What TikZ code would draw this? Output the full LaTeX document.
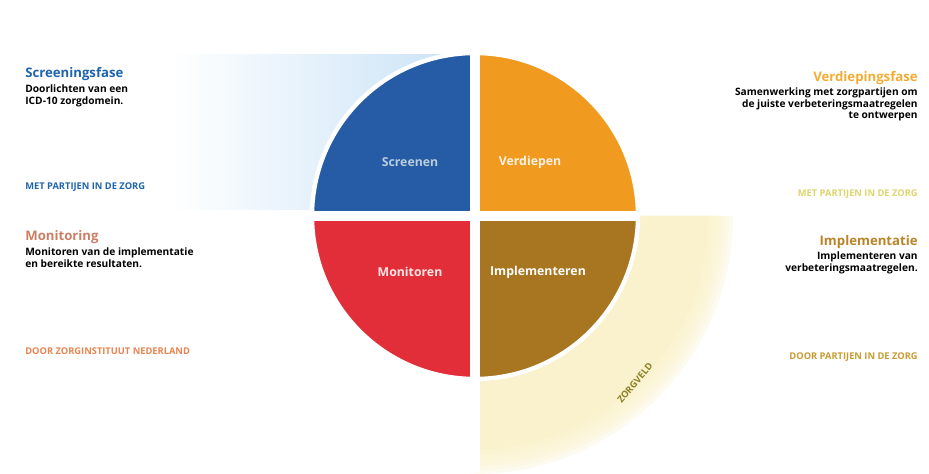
\documentclass[tikz,border=0pt]{standalone}
\usepackage{fontspec}
\setmainfont{Open Sans}
\usepackage{xcolor}
\usetikzlibrary{positioning}
\definecolor{scrblue}{RGB}{38,92,165}
\definecolor{verorange}{RGB}{240,155,32}
\definecolor{monred}{RGB}{226,46,56}
\definecolor{impbrown}{RGB}{168,118,32}
\definecolor{skyblue}{RGB}{200,226,246}
\definecolor{cream}{RGB}{250,242,205}
\definecolor{titleblue}{RGB}{30,100,172}
\definecolor{titlesalmon}{RGB}{205,125,100}
\definecolor{titleorange}{RGB}{242,172,50}
\definecolor{titlegold}{RGB}{185,132,40}
\definecolor{actororange}{RGB}{232,132,80}
\definecolor{actorpale}{RGB}{222,212,110}
\definecolor{actorgold}{RGB}{200,155,50}
\definecolor{fieldolive}{RGB}{140,128,40}

\begin{document}
\begin{tikzpicture}[x=0.02cm,y=0.02cm,
  phasetitle/.style={inner sep=0pt,font=\fontsize{7.5}{9}\selectfont\bfseries},
  phasetext/.style={inner sep=0pt,font=\fontsize{5.8}{6.8}\selectfont\bfseries},
  actorlabel/.style={inner sep=0pt,font=\fontsize{5.3}{6}\selectfont\bfseries},
  quadlabel/.style={inner sep=0pt,font=\fontsize{7}{8}\selectfont\bfseries}]
\useasboundingbox (0,0) rectangle (929,473);
% backgrounds
\shade[left color=white,right color=skyblue] (170,263) rectangle (470,418);
\fill[cream] (475,257) -- (709,257) arc (0:-90:234) -- cycle;
\foreach \r in {258,254,250,246,242,238}
  \fill[cream,opacity=0.3] (475,257) -- (475+\r,257) arc (0:-90:\r) -- cycle;
% quadrants
\fill[scrblue] (475,257) -- (313,257) arc (180:90:162) -- cycle;
\fill[verorange] (475,257) -- (475,419) arc (90:0:162) -- cycle;
\fill[monred] (475,257) -- (313,257) arc (180:270:162) -- cycle;
\fill[impbrown] (475,257) -- (475,95) arc (270:360:162) -- cycle;
\draw[white,line width=0.2cm] (475,0) -- (475,422);
\draw[white,line width=0.2cm] (310,257) -- (640,257);
\draw[white,line width=2.5pt] (475,257) circle (163);
\node[quadlabel,text=skyblue!80!gray] (screenen) at (410,311) {Screenen};
\node[quadlabel,text=white!90!orange] (verdiepen) at (530,311) {Verdiepen};
\node[quadlabel,text=white!90!red] (monitoren) at (410,201) {Monitoren};
\node[quadlabel,text=white] (implementeren) at (538,201) {Implementeren};
\node[actorlabel,text=fieldolive,rotate=50] (zorgveld) at (635,90) {ZORGVELD};
% left column
\node[phasetitle,text=titleblue,anchor=base west] (screeningsfase) at (25,395) {Screeningsfase};
\node[phasetext,align=left,anchor=north west] (screeningtext) at (25,389) {Doorlichten van een\\ICD-10 zorgdomein.};
\node[actorlabel,text=titleblue,anchor=base west] (metpartijen) at (25,283) {MET PARTIJEN IN DE ZORG};
\node[phasetitle,text=titlesalmon,anchor=base west] (monitoring) at (25,232) {Monitoring};
\node[phasetext,align=left,anchor=north west] (monitoringtext) at (25,226) {Monitoren van de implementatie\\en bereikte resultaten.};
\node[actorlabel,text=actororange,anchor=base west] (doorzin) at (25,118) {DOOR ZORGINSTITUUT NEDERLAND};
% right column
\node[phasetitle,text=titleorange,anchor=base east] (verdiepingsfase) at (918,391) {Verdiepingsfase};
\node[phasetext,align=right,anchor=north east] (verdiepingstext) at (918,386) {Samenwerking met zorgpartijen om\\de juiste verbeteringsmaatregelen\\te ontwerpen};
\node[actorlabel,text=actorpale,anchor=base east] (metpartijenr) at (918,276) {MET PARTIJEN IN DE ZORG};
\node[phasetitle,text=titlegold,anchor=base east] (implementatie) at (918,227) {Implementatie};
\node[phasetext,align=right,anchor=north east] (implementatietext) at (918,222) {Implementeren van\\verbeteringsmaatregelen.};
\node[actorlabel,text=actorgold,anchor=base east] (doorpartijen) at (918,113) {DOOR PARTIJEN IN DE ZORG};
\end{tikzpicture}
\end{document}
